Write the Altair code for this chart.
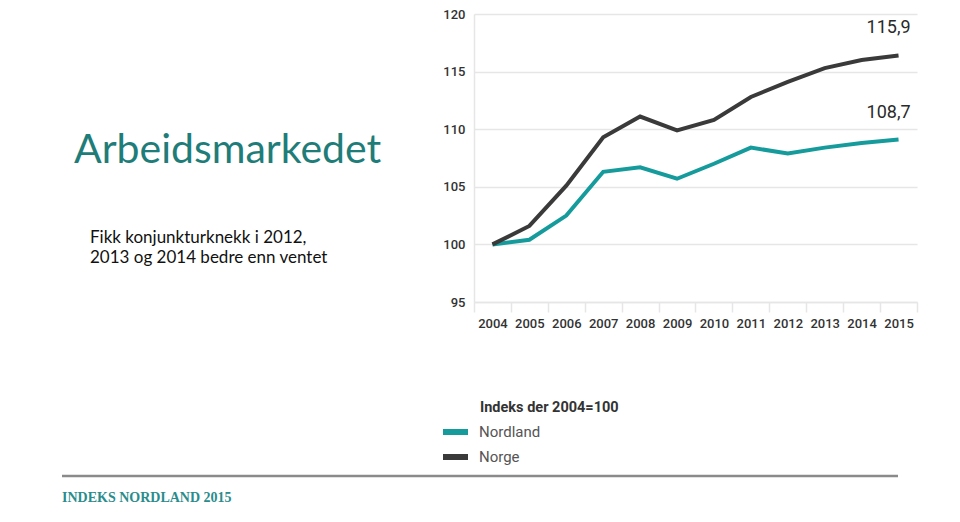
import altair as alt
import pandas as pd

# ---- data ----
years = ["2004", "2005", "2006", "2007", "2008", "2009", "2010",
         "2011", "2012", "2013", "2014", "2015"]
norge = [100.0, 101.6, 105.1, 109.3, 111.1, 109.9, 110.8, 112.8, 114.1, 115.3, 116.0, 116.4]
nordland = [100.0, 100.4, 102.5, 106.3, 106.7, 105.7, 107.0, 108.4, 107.9, 108.4, 108.8, 109.1]
series = ["Nordland", "Norge"]
series_colors = ["#169b9c", "#3a3a3a"]
end_labels = ["108,7", "115,9"]
y_ticks = [95, 100, 105, 110, 115, 120]

title_text = "Arbeidsmarkedet"
subtitle_lines = ["Fikk konjunkturknekk i 2012,", "2013 og 2014 bedre enn ventet"]
legend_title = "Indeks der 2004=100"
footer_text = "INDEKS NORDLAND 2015"

# ---- tables ----
rows = []
for y, a, b in zip(years, nordland, norge):
    rows.append({"year": y, "serie": "Nordland", "value": a})
    rows.append({"year": y, "serie": "Norge", "value": b})
df = pd.DataFrame(rows)

df_end = pd.DataFrame({
    "year": [years[-1], years[-1]],
    "serie": series,
    "value": [nordland[-1], norge[-1]],
    "label": end_labels,
})
one = pd.DataFrame({"k": [0]})

NUM_FONT = "Roboto"
GRID = "#e6e6e6"

x_enc = alt.X(
    "year:O",
    scale=alt.Scale(type="band", domain=years, paddingInner=0, paddingOuter=0),
    bandPosition=0.5,
    axis=alt.Axis(
        title=None, labelAngle=0, grid=False, tickBand="extent",
        ticks=True, tickSize=10, tickColor=GRID, tickWidth=1.5,
        domainColor=GRID, domainWidth=1.5,
        labelFont=NUM_FONT, labelFontSize=13, labelColor="#333333",
        labelFontWeight=500, labelPadding=5,
    ),
)
y_enc = alt.Y(
    "value:Q",
    scale=alt.Scale(domain=[95, 120], nice=False, zero=False),
    axis=alt.Axis(
        title=None, values=y_ticks, grid=True, gridColor=GRID, gridWidth=1.5,
        ticks=False, domainColor=GRID, domainWidth=1.5,
        labelFont=NUM_FONT, labelFontSize=13, labelColor="#333333",
        labelFontWeight=500, labelPadding=9,
    ),
)

lines = alt.Chart(df).mark_line(strokeWidth=4, strokeJoin="miter").encode(
    x=x_enc,
    y=y_enc,
    color=alt.Color(
        "serie:N",
        scale=alt.Scale(domain=series, range=series_colors),
        legend=alt.Legend(
            orient="none", legendX=-34, legendY=407, title=None,
            symbolType="stroke", symbolStrokeWidth=6, symbolSize=625,
            labelFont="Roboto", labelFontSize=15, labelFontWeight=400,
            labelColor="#555555", clipHeight=22,
            labelOffset=8, padding=0, rowPadding=3,
        ),
    ),
    order=alt.Order("year:O"),
)

end_text = alt.Chart(df_end).mark_text(
    font=NUM_FONT, fontSize=18, color="#2a2a2a", dx=-10, dy=-27, align="center",
    baseline="middle",
).encode(
    x=alt.X("year:O", bandPosition=0.5),
    y="value:Q",
    text="label:N",
)

title = alt.Chart(one).mark_text(
    font="Lato", fontSize=41, color="#1f7d79", align="left", baseline="alphabetic",
).encode(x=alt.value(-400), y=alt.value(149), text=alt.value(title_text))

subtitle = alt.Chart(one).mark_text(
    font="Lato", fontSize=17, color="#111111", align="left", baseline="alphabetic",
    lineHeight=20,
).encode(x=alt.value(-384), y=alt.value(229), text=alt.value(subtitle_lines))

leg_title = alt.Chart(one).mark_text(
    font="Roboto", fontSize=14.5, fontWeight="bold", color="#333333",
    align="left", baseline="middle",
).encode(x=alt.value(6), y=alt.value(394), text=alt.value(legend_title))

rule = alt.Chart(one).mark_rule(color="#8a8a8a", strokeWidth=2.5).encode(
    x=alt.value(-412), x2=alt.value(424), y=alt.value(462)
)

footer = alt.Chart(one).mark_text(
    font="Liberation Serif", fontSize=14, fontWeight="bold", color="#2a8c8c",
    align="left", baseline="middle",
).encode(x=alt.value(-412), y=alt.value(484), text=alt.value(footer_text))

chart = alt.layer(lines, end_text, title, subtitle, leg_title, rule, footer).properties(
    width=443,
    height=288,
    autosize=alt.AutoSizeParams(type="none"),
    padding={"left": 466, "top": 6, "right": 35, "bottom": 212},
    background="white",
).configure_view(stroke=None)

chart.save("out.html", embed_options={"renderer": "svg", "actions": False})
